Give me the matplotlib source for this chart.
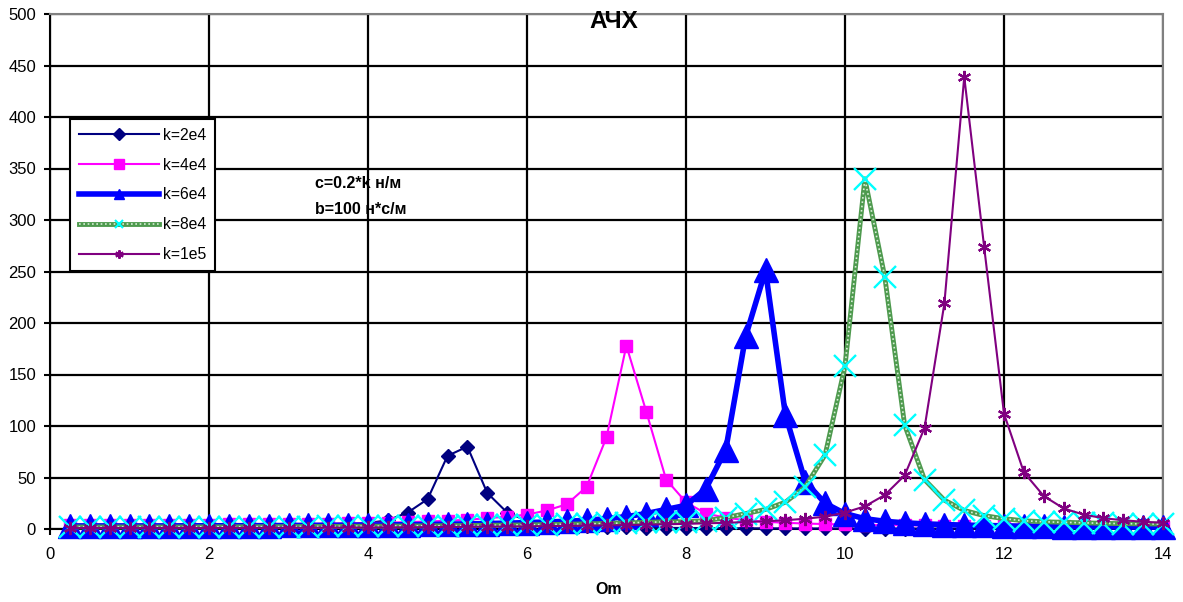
import matplotlib
matplotlib.use("Agg")
import matplotlib.pyplot as plt
from matplotlib.lines import Line2D

plt.rcParams['font.family'] = ['Liberation Sans', 'DejaVu Sans']

# ---- data -----------------------------------------------------------
omega = [0.25, 0.5, 0.75, 1.0, 1.25, 1.5, 1.75, 2.0,
         2.25, 2.5, 2.75, 3.0, 3.25, 3.5, 3.75, 4.0,
         4.25, 4.5, 4.75, 5.0, 5.25, 5.5, 5.75, 6.0,
         6.25, 6.5, 6.75, 7.0, 7.25, 7.5, 7.75, 8.0,
         8.25, 8.5, 8.75, 9.0, 9.25, 9.5, 9.75, 10.0,
         10.25, 10.5, 10.75, 11.0, 11.25, 11.5, 11.75, 12.0,
         12.25, 12.5, 12.75, 13.0, 13.25, 13.5, 13.75, 14.0]

k2e4 = [1.0, 1.0, 1.0, 1.1, 1.2, 1.3, 1.4, 1.5,
        1.7, 1.9, 2.1, 2.4, 2.8, 3.4, 4.3, 5.8,
        8.5, 16, 29, 71, 80, 35, 16, 8,
        5, 3.5, 2.6, 2.0, 1.6, 1.3, 1.1, 1.0,
        0.9, 0.8, 0.7, 0.6, 0.6, 0.5, 0.5, 0.5,
        0.4, 0.4, 0.4, 0.4, 0.4, 0.3, 0.3, 0.3,
        0.3, 0.3, 0.3, 0.3, 0.3, 0.3, 0.2, 0.2]

k4e4 = [4.0, 4.0, 4.0, 4.0, 4.1, 4.1, 4.2, 4.3,
        4.4, 4.5, 4.6, 4.8, 5.0, 5.2, 5.5, 5.8,
        6.2, 6.7, 7.3, 8.0, 9.0, 10.5, 12, 14,
        18, 24, 41, 89, 178, 114, 48, 26,
        15, 11, 8.5, 7, 6, 5.3, 4.8, 4.4,
        4.1, 3.8, 3.6, 3.4, 3.2, 3.1, 3.0, 2.9,
        2.8, 2.7, 2.6, 2.5, 2.5, 2.4, 2.4, 2.3]

k6e4 = [3.0, 3.0, 3.0, 3.0, 3.0, 3.0, 3.1, 3.1,
        3.2, 3.2, 3.3, 3.4, 3.5, 3.6, 3.7, 3.9,
        4.0, 4.2, 4.4, 4.7, 5.0, 5.3, 5.7, 6.2,
        6.8, 7.5, 8.5, 10, 12, 15, 19, 23,
        39, 77, 187, 251, 111, 46, 25, 15,
        10, 7.5, 6, 5, 4.3, 3.8, 3.4, 3.1,
        2.8, 2.6, 2.4, 2.2, 2.1, 2.0, 1.9, 1.8]

k8e4 = [2.0, 2.0, 2.0, 2.0, 2.0, 2.0, 2.0, 2.1,
        2.1, 2.2, 2.2, 2.3, 2.4, 2.5, 2.6, 2.7,
        2.8, 2.9, 3.0, 3.2, 3.4, 3.6, 3.8, 4.0,
        4.3, 4.6, 5.0, 5.4, 5.9, 6.5, 7.0, 7.0,
        8, 11, 15, 19, 26, 41, 72, 158,
        340, 245, 101, 48, 28, 18, 13, 10,
        8, 7, 6.5, 6, 5.5, 5.2, 5.0, 4.8]

k1e5 = [1.0, 1.0, 1.0, 1.0, 1.0, 1.0, 1.0, 1.0,
        1.0, 1.0, 1.1, 1.1, 1.2, 1.3, 1.4, 1.5,
        1.6, 1.7, 1.8, 2.0, 2.1, 2.3, 2.4, 2.6,
        2.8, 3.0, 3.2, 3.5, 3.8, 4.2, 4.6, 5.0,
        5.5, 6.0, 6.8, 7.5, 8.5, 10, 12, 16,
        22, 33, 52, 98, 219, 439, 274, 112,
        55, 32, 20, 14, 10.5, 8.5, 7, 6]

labels = ['k=2e4', 'k=4e4', 'k=6e4', 'k=8e4', 'k=1e5']
x_ticks = [0, 2, 4, 6, 8, 10, 12, 14]
y_ticks = [0, 50, 100, 150, 200, 250, 300, 350, 400, 450, 500]

# ---- figure ---------------------------------------------------------
fig = plt.figure(figsize=(11.83, 6.02), dpi=100)
ax = fig.add_axes([50 / 1183, 73 / 602, 1113 / 1183, 515 / 602])

ax.set_xlim(0, 14)
ax.set_ylim(0, 500)
ax.set_xticks(x_ticks)
ax.set_yticks(y_ticks)
ax.grid(True, color='black', linewidth=1.6, zorder=0)
ax.set_axisbelow(True)

for side in ['top', 'right']:
    ax.spines[side].set_color('#808080')
    ax.spines[side].set_linewidth(1.5)
for side in ['left', 'bottom']:
    ax.spines[side].set_color('black')
    ax.spines[side].set_linewidth(1.5)

ax.tick_params(axis='both', direction='out', length=4, width=1.5,
               labelsize=12, colors='black')
ax.tick_params(axis='x', pad=9)
ax.tick_params(axis='y', pad=6)

# series
ax.plot(omega, k2e4, color='#000080', lw=1.5, marker='D', ms=7,
        mfc='#000080', mec='#000080', clip_on=False, zorder=3)
ax.plot(omega, k4e4, color='#FF00FF', lw=1.5, marker='s', ms=8.5,
        mfc='#FF00FF', mec='#FF00FF', clip_on=False, zorder=4)
ax.plot(omega, k6e4, color='#0000FF', lw=4, marker='^', ms=17,
        mfc='#0000FF', mec='#0000FF', clip_on=False, zorder=5)
ax.plot(omega, k8e4, color='#4E9A4E', lw=3.5, clip_on=False, zorder=6,
        solid_capstyle='round')
ax.plot(omega, k8e4, color='#D8EED8', lw=1.2, ls=(0, (1, 1.6)),
        clip_on=False, zorder=6.1)
ax.plot(omega, k8e4, ls='none', marker='x', ms=16, mew=1.7,
        color='#00FFFF', clip_on=False, zorder=6.2)
ax.plot(omega, k1e5, color='#800080', lw=1.5, marker=(6, 2, 0), ms=9.5,
        mew=1.6, mec='#800080', clip_on=False, zorder=7)

# legend with proxy handles
h_green = (Line2D([], [], color='#4E9A4E', lw=3.5),
           Line2D([], [], color='#D8EED8', lw=1.2, ls=(0, (1, 1.6))),
           Line2D([], [], ls='none', marker='x', ms=6, mew=1.5, color='#00FFFF'))
handles = [
    Line2D([], [], color='#000080', lw=1.5, marker='D', ms=6, mfc='#000080', mec='#000080'),
    Line2D([], [], color='#FF00FF', lw=1.5, marker='s', ms=7, mfc='#FF00FF', mec='#FF00FF'),
    Line2D([], [], color='#0000FF', lw=4, marker='^', ms=7, mfc='#0000FF', mec='#0000FF'),
    h_green,
    Line2D([], [], color='#800080', lw=1.5, marker=(6, 2, 0), ms=6, mew=1.5, mec='#800080'),
]
leg = ax.legend(handles, labels, loc='upper left',
                bbox_to_anchor=((70 - 50) / 1113, (529 - 119) / 515),
                borderaxespad=0, fontsize=11.3, frameon=True, fancybox=False,
                edgecolor='black', framealpha=1, handlelength=5.1,
                handletextpad=0.25, labelspacing=0.95, borderpad=0.55)
leg.get_frame().set_linewidth(1.5)
leg.set_zorder(10)

# texts
ax.set_title('АЧХ', fontsize=17.5, fontweight='bold',
             x=(614 - 50) / 1113, y=(529 - 22) / 515, va='center', pad=0)
ax.text((315 - 50) / 1113, (529 - 184) / 515, 'c=0.2*k н/м', transform=ax.transAxes,
        fontsize=11.5, fontweight='bold', ha='left', va='center', zorder=11)
ax.text((315 - 50) / 1113, (529 - 209) / 515, 'b=100 н*с/м', transform=ax.transAxes,
        fontsize=11.5, fontweight='bold', ha='left', va='center', zorder=11)
ax.set_xlabel('Om', fontsize=11.5, fontweight='bold', va='center')
ax.xaxis.set_label_coords((609 - 50) / 1113, (529 - 590) / 515)

fig.savefig('out.png', dpi=100)
